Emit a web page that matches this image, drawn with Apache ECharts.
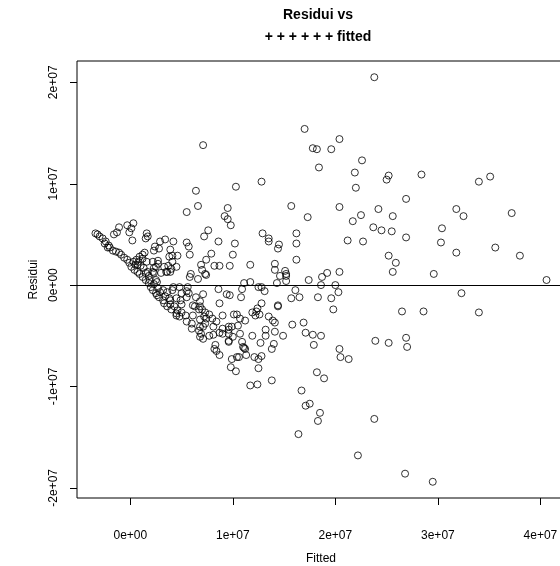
<!DOCTYPE html>
<html>
<head>
<meta charset="utf-8">
<title>Residui vs fitted</title>
<script src="https://cdn.jsdelivr.net/npm/echarts@6/dist/echarts.min.js"></script>
<style>
  html, body { margin: 0; padding: 0; background: #fff; }
  #chart { width: 560px; height: 566px; }
</style>
</head>
<body>
<div id="chart"></div>
<script>
// values, in millions (1e+06)
var fitted = [
  23.8,17.0,17.8,18.2,19.6,20.4,18.4,22.6,21.9,22.0,25.2,25.0,28.4,34.0,35.1,10.3,12.8,15.7,17.3,20.4,
  24.2,26.9,31.8,32.5,37.2,21.7,22.5,25.6,23.7,24.5,25.5,30.4,26.9,30.3,35.6,21.2,22.7,31.8,38.0,25.2,
  25.9,25.6,29.6,40.6,32.3,12.9,13.5,13.5,14.5,14.4,16.2,16.2,16.2,10.2,10.0,11.7,14.1,14.1,15.1,15.2,
  15.2,14.6,14.3,15.2,19.2,20.4,18.7,17.4,18.6,20.0,20.3,16.1,15.7,16.5,18.3,19.6,11.1,11.7,10.9,12.8,
  13.1,9.7,
  26.5,28.6,34.0,23.9,25.2,26.9,27.0,20.4,20.5,21.3,
  18.2,18.9,16.7,17.1,17.5,18.5,18.3,23.8,16.4,22.2,
  26.8,29.5,15.8,16.9,17.1,17.8,18.6,17.9,19.8,14.9,
  13.8,12.4,11.7,12.5,10.3,9.8,9.9,10.4,10.6,12.5,
  12.8,12.1,11.3,11.1,13.8,14.0,12.7,11.9,13.2,13.2,
  14.1,14.1,13.9,13.5,12.6,11.9,12.4,12.8,12.3,14.4,
  14.4,11.2,10.7,10.5,10.7,10.9,11.0,11.2,10.1,10.4,
  9.0,8.7,10.8,8.6,9.4,9.7,9.6,9.6,9.6,9.6,
  10.0,9.6,8.7,9.0,8.1,7.7,8.3,8.2,8.4,8.7,
  8.1,8.4,8.0,7.4,6.8,7.1,6.8,6.7,7.1,6.9,
  6.1,5.4,6.0,5.5,6.0,7.3,7.7,6.7,6.3,6.1,
  6.8,7.1,6.4,5.7,5.5,5.0,5.6,
  2.9,4.2,5.5,5.7,8.6,2.3,2.8,5.8,4.1,4.6,
  7.9,2.7,7.4,6.9,7.0,8.2,8.7,4.5,3.7,3.9,
  3.5,3.0,2.3,2.3,5.9,5.8,7.3,7.4,12.5,4.2,
  4.8,5.0,5.5,2.6,3.2,3.9,4.5,4.9,4.5,7.0,
  7.2,7.3,9.0,12.2,
  -3.4,-3.2,-3.0,-2.7,-2.4,-2.1,-2.0,-1.7,-1.4,-1.1,
  -0.9,-0.6,-0.3,-0.1,0.1,0.3,0.6,0.9,1.2,1.4,
  0.7,0.4,0.7,1.2,1.5,1.8,2.0,2.2,2.5,2.8,
  3.3,3.6,4.0,4.5,4.8,2.5,3.2,3.6,4.1,3.8,
  2.2,1.7,2.5,2.2,2.7,3.3,3.6,4.0,4.1,3.8,
  3.9,2.4,3.4,1.6,1.7,1.5,-0.1,0.2,0.1,-1.3,
  -1.6,-1.1,-0.3,0.3,5.5,
  7.1,6.4,6.6,9.5,9.2,9.5,9.8,7.6,7.2,6.6,
  9.9,6.8,6.8,0.8,1.0,1.3,1.5,0.9,1.8,0.5,
  1.2,1.6,1.9,2.3,2.7,2.6,2.9,3.4,3.9,4.3,
  4.6,5.0,-2.5,-2.2
];
var resid = [
  20.5,15.4,13.5,13.4,13.4,14.4,11.6,12.3,11.1,9.6,10.8,10.4,10.9,10.2,10.7,9.7,10.2,7.8,6.7,7.7,
  7.5,8.5,7.5,6.8,7.1,6.3,6.9,6.8,5.7,5.4,5.3,5.6,4.7,4.2,3.7,4.4,4.3,3.2,2.9,2.9,
  2.2,1.3,1.1,0.5,-0.8,5.1,4.6,4.3,4.0,3.6,5.1,4.1,2.5,4.1,3.0,2.0,2.1,1.5,1.4,1.1,
  0.9,0.9,0.2,0.4,1.2,1.3,0.8,0.5,0.0,0.0,-0.7,-0.5,-1.3,-1.2,-1.2,-1.3,0.2,0.3,-0.4,-0.2,
  -0.6,1.9,
  -2.6,-2.6,-2.7,-5.5,-5.7,-5.2,-6.1,-6.3,-7.1,-7.3,
  -8.6,-9.2,-10.4,-11.9,-11.7,-12.6,-13.4,-13.2,-14.7,-16.8,
  -18.6,-19.4,-3.9,-3.7,-4.7,-4.9,-5.0,-5.9,-2.4,-5.0,
  -9.4,-9.8,-9.9,-8.2,-8.5,-8.1,-7.3,-7.1,-7.1,-7.3,
  -7.0,-7.1,-6.9,-6.2,-6.3,-5.8,-5.7,-5.0,-5.0,-4.4,
  -4.6,-3.7,-3.5,-3.1,-2.9,-2.7,-2.3,-1.8,-2.6,-2.1,
  -2.0,-3.5,-3.3,-4.0,-4.8,-5.6,-6.1,-6.3,-2.9,-2.9,
  -3.0,-1.8,-1.2,-0.4,-0.9,-1.0,-4.1,-4.4,-5.5,-5.6,
  -5.1,-4.8,-4.7,-4.8,-4.9,-5.0,-5.9,-6.3,-6.5,-6.9,
  -4.1,-3.6,-3.3,-3.3,-3.4,-4.1,-4.1,-4.5,-5.3,-4.8,
  -3.0,-3.0,-3.8,-3.6,-4.3,-2.7,-2.9,-2.4,-2.1,-2.0,
  -1.6,-0.9,-1.2,-0.8,-1.2,-1.9,-0.2,
  4.3,4.3,4.2,3.8,4.3,3.4,3.6,3.0,2.9,2.9,
  3.1,2.4,2.5,2.0,1.5,1.9,1.9,1.8,1.9,1.3,
  1.3,1.2,1.7,1.2,1.1,0.8,1.1,1.0,-0.2,-0.2,
  -0.2,-0.8,-0.6,0.3,-1.5,-1.5,-1.3,-1.5,-3.0,-2.4,
  -3.1,-3.8,-4.3,-3.0,
  5.1,5.0,4.8,4.6,4.3,3.9,3.7,3.4,3.3,3.2,
  3.0,2.7,2.5,2.2,1.8,2.3,2.5,2.8,3.0,3.2,
  2.0,1.5,1.3,0.8,0.5,0.2,-0.2,-0.5,-0.8,-1.2,
  -1.8,-2.1,-2.4,-2.8,-3.1,0.5,-0.5,-0.7,-0.5,-1.3,
  1.3,1.3,1.8,2.3,2.1,1.8,1.3,1.6,2.3,2.8,
  3.5,3.8,4.5,5.1,4.8,4.6,5.2,4.4,5.6,5.2,
  5.0,5.7,5.9,6.1,7.2,
  13.8,9.3,7.8,7.6,6.8,6.5,5.9,5.4,4.8,0.6,
  -4.1,-2.1,-5.1,2.3,1.9,1.7,1.2,1.1,0.9,2.0,
  2.6,2.3,0.5,0.1,-0.3,-1.0,-0.7,-1.1,-1.9,-2.1,
  -2.5,-2.7,4.1,3.7
];
var xTicks = [0, 10, 20, 30, 40];
var yTicks = [-20, -10, 0, 10, 20];
var xMin = -5.2, xMax = 42.4;
var yMin = -21.0, yMax = 22.1;

function sciLabel(v) {
  if (v === 0) return '0e+00';
  return (v < 0 ? '-' : '') + Math.abs(v / 10) + 'e+07';
}

var points = fitted.map(function (f, i) { return [f, resid[i]]; });

var chart = echarts.init(document.getElementById('chart'));
var font = 'Liberation Sans, Arial, Helvetica, sans-serif';
var tickLen = 7;

chart.setOption({
  animation: false,
  backgroundColor: '#fff',
  title: {
    text: 'Residui vs\n+ + + + + + fitted',
    left: 313,
    top: -1,
    textAlign: 'center',
    textStyle: {
      fontFamily: font,
      fontSize: 14,
      fontWeight: 'bold',
      color: '#000',
      lineHeight: 22
    }
  },
  grid: {
    left: 77,
    right: -5,
    top: 61,
    bottom: 68,
    containLabel: false,
    outerBoundsMode: 'none',
    show: true,
    borderColor: '#000',
    borderWidth: 1,
    backgroundColor: 'transparent'
  },
  xAxis: {
    type: 'value',
    position: 'bottom',
    min: xMin,
    max: xMax,
    name: 'Fitted',
    nameLocation: 'middle',
    nameGap: 55,
    nameTextStyle: { fontFamily: font, fontSize: 12, color: '#000' },
    axisLine: { show: false, onZero: false },
    splitLine: { show: false },
    axisTick: { show: false },
    axisLabel: {
      show: true,
      customValues: xTicks,
      margin: 32,
      fontFamily: font,
      fontSize: 12,
      color: '#000',
      formatter: sciLabel
    }
  },
  yAxis: {
    type: 'value',
    position: 'left',
    min: yMin,
    max: yMax,
    name: 'Residui',
    nameLocation: 'middle',
    nameGap: 36,
    nameTextStyle: { fontFamily: font, fontSize: 12, color: '#000' },
    axisLine: { show: false, onZero: false },
    splitLine: { show: false },
    axisTick: { show: false },
    axisLabel: {
      show: true,
      customValues: yTicks,
      rotate: 90,
      margin: 17,
      fontFamily: font,
      fontSize: 12,
      color: '#000',
      formatter: sciLabel
    }
  },
  series: [{
    type: 'scatter',
    data: points,
    symbol: 'circle',
    symbolSize: 7,
    itemStyle: {
      color: 'rgba(0,0,0,0)',
      borderColor: '#000',
      borderWidth: 1
    },
    emphasis: { disabled: true },
    markLine: {
      silent: true,
      symbol: 'none',
      label: { show: false },
      lineStyle: { color: '#000', width: 1, type: 'solid' },
      data: [{ yAxis: 0 }]
    }
  }]
});

// outward tick marks, placed through the grid's own scales
function toPx(x, y) {
  return chart.convertToPixel({ gridIndex: 0 }, [x, y]);
}
var tickLines = [];
xTicks.forEach(function (v) {
  var p = toPx(v, yMin);
  var px = Math.round(p[0]) + 0.5, py = Math.round(p[1]);
  tickLines.push({
    type: 'line', silent: true, z: 100,
    shape: { x1: px, y1: py, x2: px, y2: py + tickLen },
    style: { stroke: '#000', lineWidth: 1 }
  });
});
yTicks.forEach(function (v) {
  var p = toPx(xMin, v);
  var px = Math.round(p[0]), py = Math.round(p[1]) + 0.5;
  tickLines.push({
    type: 'line', silent: true, z: 100,
    shape: { x1: px, y1: py, x2: px - tickLen, y2: py },
    style: { stroke: '#000', lineWidth: 1 }
  });
});
chart.setOption({ graphic: tickLines });
</script>
</body>
</html>
